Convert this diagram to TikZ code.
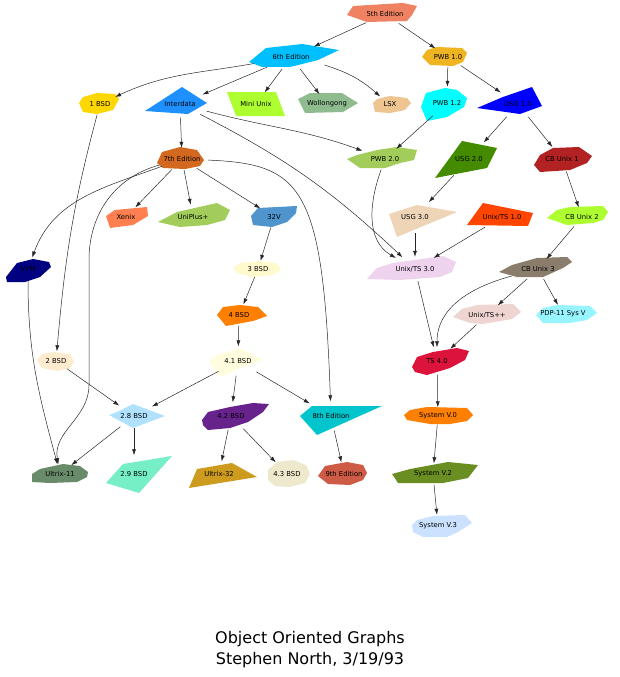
\documentclass[tikz,border=0pt]{standalone}
\usepackage{fontspec}
\setmainfont{DejaVu Sans}
\usetikzlibrary{arrows.meta,shapes.geometric}

\definecolor{salmon2}{RGB}{238,130,98}
\definecolor{deepskyblue}{RGB}{0,191,255}
\definecolor{goldenrod2}{RGB}{238,180,34}
\definecolor{gold}{RGB}{255,215,0}
\definecolor{dodgerblue}{RGB}{30,144,255}
\definecolor{greenyellow}{RGB}{173,255,47}
\definecolor{darkseagreen}{RGB}{143,188,143}
\definecolor{burlywood2}{RGB}{238,197,145}
\definecolor{aqua}{RGB}{0,255,255}
\definecolor{pureblue}{RGB}{0,0,255}
\definecolor{chocolate}{RGB}{210,105,30}
\definecolor{darkolivegreen3}{RGB}{162,205,90}
\definecolor{chartreuse4}{RGB}{69,139,0}
\definecolor{firebrick}{RGB}{178,34,34}
\definecolor{coral}{RGB}{255,127,80}
\definecolor{steelblue3}{RGB}{79,148,205}
\definecolor{bisque2}{RGB}{238,213,183}
\definecolor{orangered}{RGB}{255,69,0}
\definecolor{navy}{RGB}{0,0,128}
\definecolor{lemonchiffon}{RGB}{255,250,205}
\definecolor{thistle2}{RGB}{238,210,238}
\definecolor{bisque4}{RGB}{139,125,107}
\definecolor{darkorange1}{RGB}{255,127,0}
\definecolor{mistyrose2}{RGB}{238,213,210}
\definecolor{cadetblue1}{RGB}{152,245,255}
\definecolor{blanchedalmond}{RGB}{255,235,205}
\definecolor{lightyellow}{RGB}{255,253,222}
\definecolor{crimson}{RGB}{220,20,60}
\definecolor{lightskyblue1}{RGB}{176,226,255}
\definecolor{darkorchid4}{RGB}{104,34,139}
\definecolor{turquoise3}{RGB}{0,197,205}
\definecolor{darkseagreen4}{RGB}{105,139,105}
\definecolor{aquamarine2}{RGB}{118,238,198}
\definecolor{goldenrod3}{RGB}{205,155,29}
\definecolor{cornsilk2}{RGB}{238,232,205}
\definecolor{coral3}{RGB}{205,91,69}
\definecolor{olivedrab}{RGB}{107,142,35}
\definecolor{lightsteelblue1}{RGB}{202,225,255}

\begin{document}
\begin{tikzpicture}[x=1pt, y=-1pt]
    \tikzstyle{release} = [ellipse, inner sep=0pt, font={\fontsize{6.8}{7}\selectfont}];
    \tikzstyle{line} = [draw, black!85, line width=0.5pt, -{Latex[length=6pt,width=4pt]}];
    \useasboundingbox (0,0) rectangle (620,677);

    % research editions
    \fill[salmon2] (347,15) -- (353,6) -- (403,3) -- (417,6) -- (412,15) -- (407,21) -- (367,22) -- cycle;
    \node[release, minimum width=70, minimum height=20] (fifth) at (385,14) {5th Edition};
    \fill[deepskyblue] (249,62) -- (266,48) -- (302,44) -- (339,50) -- (318,60) -- (290,67) -- (262,67) -- cycle;
    \node[release, minimum width=88, minimum height=24] (sixth) at (291,57) {6th Edition};
    \fill[goldenrod2] (422,57) -- (427,50) -- (437,47) -- (462,48) -- (467,53) -- (463,62) -- (453,66) -- (430,65) -- cycle;
    \node[release, minimum width=46, minimum height=20] (pwb10) at (448,57) {PWB 1.0};
    \fill[gold] (79,103) -- (83,97) -- (97,93) -- (115,94) -- (119,99) -- (113,110) -- (97,114) -- (83,112) -- cycle;
    \node[release, minimum width=40, minimum height=21] (bsd1) at (100,104) {1 BSD};
    \fill[dodgerblue] (145,111) -- (182,87) -- (207,103) -- (188,114) -- cycle;
    \node[release, minimum width=62, minimum height=27] (interdata) at (180,104) {Interdata};
    \fill[greenyellow] (227,92) -- (276,92) -- (285,116) -- (236,116) -- cycle;
    \node[release, minimum width=56, minimum height=24] (miniunix) at (256,104) {Mini Unix};
    \fill[darkseagreen] (298,99) -- (310,93) -- (342,93) -- (358,103) -- (343,112) -- (305,113) -- cycle;
    \node[release, minimum width=60, minimum height=20] (wollongong) at (327,104) {Wollongong};
    \fill[burlywood2] (373,103) -- (377,99) -- (390,96) -- (407,98) -- (411,103) -- (405,110) -- (390,113) -- (375,112) -- cycle;
    \node[release, minimum width=38, minimum height=17] (lsx) at (390,104) {LSX};
    \fill[aqua] (421,107) -- (426,93) -- (445,88) -- (457,90) -- (467,98) -- (464,107) -- (447,117) -- (427,121) -- cycle;
    \node[release, minimum width=46, minimum height=32] (pwb12) at (447,103) {PWB 1.2};
    \fill[pureblue] (477,108) -- (503,97) -- (532,87) -- (542,106) -- (520,114) -- cycle;
    \node[release, minimum width=64, minimum height=27] (usg10) at (518,104) {USG 1.0};
    \fill[chocolate] (157,163) -- (162,152) -- (180,147) -- (197,150) -- (204,160) -- (200,166) -- (185,169) -- (163,168) -- cycle;
    \node[release, minimum width=47, minimum height=22] (seventh) at (182,159) {7th Edition};
    \fill[darkolivegreen3] (347,159) -- (357,155) -- (377,150) -- (397,147) -- (417,150) -- (414,160) -- (400,163) -- (385,168) -- (360,168) -- cycle;
    \node[release, minimum width=70, minimum height=21] (pwb20) at (385,159) {PWB 2.0};
    \fill[chartreuse4] (435,178) -- (462,141) -- (497,148) -- (487,168) -- cycle;
    \node[release, minimum width=62, minimum height=37] (usg20) at (469,159) {USG 2.0};
    \fill[firebrick] (534,165) -- (540,155) -- (553,148) -- (579,147) -- (592,156) -- (587,163) -- (570,170) -- (540,172) -- cycle;
    \node[release, minimum width=58, minimum height=25] (cbunix1) at (562,159) {CB Unix 1};
    \fill[coral] (106,216) -- (115,210) -- (147,207) -- (148,216) -- (133,225) -- (110,228) -- cycle;
    \node[release, minimum width=42, minimum height=21] (xenix) at (126,217) {Xenix};
    \fill[darkolivegreen3] (158,222) -- (177,212) -- (217,203) -- (230,210) -- (225,220) -- (207,225) -- (180,227) -- cycle;
    \node[release, minimum width=72, minimum height=24] (uniplus) at (193,217) {UniPlus+};
    \fill[steelblue3] (251,216) -- (258,208) -- (297,206) -- (296,213) -- (287,222) -- (272,227) -- (253,225) -- cycle;
    \node[release, minimum width=46, minimum height=21] (v32) at (274,217) {32V};
    \fill[bisque2] (389,214) -- (417,205) -- (457,212) -- (397,237) -- cycle;
    \node[release, minimum width=68, minimum height=32] (usg30) at (415,217) {USG 3.0};
    \fill[orangered] (467,225) -- (483,203) -- (533,213) -- (528,226) -- cycle;
    \node[release, minimum width=66, minimum height=23] (unixts10) at (502,217) {Unix/TS 1.0};
    \fill[greenyellow] (547,218) -- (557,210) -- (570,207) -- (603,206) -- (608,212) -- (603,220) -- (593,223) -- (567,225) -- cycle;
    \node[release, minimum width=61, minimum height=19] (cbunix2) at (582,217) {CB Unix 2};
    \fill[navy] (6,277) -- (17,263) -- (33,259) -- (49,262) -- (51,267) -- (40,277) -- (25,282) -- (7,282) -- cycle;
    \node[release, minimum width=45, minimum height=23] (v7m) at (28,269) {V7M};
    \fill[lemonchiffon] (233,268) -- (240,263) -- (260,261) -- (277,263) -- (281,270) -- (273,275) -- (253,277) -- (237,273) -- cycle;
    \node[release, minimum width=48, minimum height=16] (bsd3) at (258,269) {3 BSD};
    \fill[thistle2] (367,279) -- (377,268) -- (393,263) -- (443,256) -- (456,262) -- (452,272) -- (440,277) -- (400,280) -- cycle;
    \node[release, minimum width=89, minimum height=24] (unixts30) at (415,269) {Unix/TS 3.0};
    \fill[bisque4] (499,272) -- (512,265) -- (537,258) -- (567,257) -- (572,262) -- (563,268) -- (543,277) -- (517,277) -- cycle;
    \node[release, minimum width=73, minimum height=20] (cbunix3) at (538,269) {CB Unix 3};
    \fill[darkorange1] (217,315) -- (223,307) -- (240,305) -- (258,307) -- (267,316) -- (253,321) -- (226,326) -- cycle;
    \node[release, minimum width=50, minimum height=21] (bsd4) at (239,315) {4 BSD};
    \fill[mistyrose2] (453,317) -- (462,309) -- (477,305) -- (513,304) -- (521,312) -- (512,319) -- (483,324) -- (470,323) -- cycle;
    \node[release, minimum width=68, minimum height=20] (unixtspp) at (487,315) {Unix/TS++};
    \fill[cadetblue1] (536,315) -- (543,308) -- (557,305) -- (590,306) -- (597,313) -- (587,320) -- (570,323) -- (543,323) -- cycle;
    \node[release, minimum width=61, minimum height=18] (pdp11) at (563,314) {PDP-11 Sys V};
    \fill[blanchedalmond] (37,360) -- (42,354) -- (53,352) -- (70,354) -- (74,362) -- (70,368) -- (58,371) -- (42,368) -- cycle;
    \node[release, minimum width=37, minimum height=19] (bsd2) at (56,361) {2 BSD};
    \fill[lightyellow] (209,361) -- (217,355) -- (240,348) -- (263,360) -- (240,368) -- (220,377) -- cycle;
    \node[release, minimum width=54, minimum height=29] (bsd41) at (238,361) {4.1 BSD};
    \fill[crimson] (412,367) -- (417,357) -- (433,352) -- (457,348) -- (469,351) -- (465,360) -- (450,368) -- (427,375) -- (415,372) -- cycle;
    \node[release, minimum width=57, minimum height=27] (ts40) at (437,361) {TS 4.0};
    \fill[lightskyblue1] (109,415) -- (117,412) -- (133,404) -- (165,416) -- (133,428) -- cycle;
    \node[release, minimum width=56, minimum height=24] (bsd28) at (134,416) {2.8 BSD};
    \fill[darkorchid4] (202,420) -- (208,412) -- (230,407) -- (253,403) -- (269,404) -- (263,412) -- (248,422) -- (230,428) -- (208,430) -- (203,425) -- cycle;
    \node[release, minimum width=67, minimum height=27] (bsd42) at (231,416) {4.2 BSD};
    \fill[turquoise3] (300,416) -- (312,406) -- (382,406) -- (317,435) -- cycle;
    \node[release, minimum width=82, minimum height=29] (eighth) at (331,416) {8th Edition};
    \fill[darkorange1] (404,415) -- (410,410) -- (427,407) -- (467,408) -- (473,415) -- (467,421) -- (450,424) -- (430,424) -- (407,420) -- cycle;
    \node[release, minimum width=69, minimum height=17] (sysv0) at (438,416) {System V.0};
    \fill[darkseagreen4] (32,474) -- (40,469) -- (63,464) -- (80,466) -- (88,472) -- (87,477) -- (77,482) -- (50,483) -- (32,482) -- cycle;
    \node[release, minimum width=56, minimum height=19] (ultrix11) at (60,474) {Ultrix-11};
    \fill[aquamarine2] (106,483) -- (123,464) -- (172,456) -- (139,493) -- cycle;
    \node[release, minimum width=66, minimum height=37] (bsd29) at (134,474) {2.9 BSD};
    \fill[goldenrod3] (189,488) -- (197,469) -- (232,463) -- (257,477) -- cycle;
    \node[release, minimum width=68, minimum height=25] (ultrix32) at (219,474) {Ultrix-32};
    \fill[cornsilk2] (268,470) -- (277,462) -- (293,460) -- (306,465) -- (310,474) -- (305,483) -- (290,487) -- (275,486) -- (268,480) -- cycle;
    \node[release, minimum width=42, minimum height=27] (bsd43) at (287,474) {4.3 BSD};
    \fill[coral3] (318,476) -- (325,466) -- (347,462) -- (363,465) -- (367,473) -- (363,480) -- (350,485) -- (328,484) -- cycle;
    \node[release, minimum width=49, minimum height=23] (ninth) at (344,474) {9th Edition};
    \fill[olivedrab] (392,474) -- (410,469) -- (448,462) -- (478,465) -- (468,478) -- (443,483) -- (398,483) -- cycle;
    \node[release, minimum width=86, minimum height=21] (sysv2) at (433,474) {System V.2};
    \fill[lightsteelblue1] (412,525) -- (417,520) -- (433,516) -- (465,515) -- (472,523) -- (458,532) -- (447,537) -- (423,537) -- (413,532) -- cycle;
    \node[release, minimum width=60, minimum height=22] (sysv3) at (438,526) {System V.3};

    \node[align=center, font={\fontsize{16}{21}\selectfont}] (title) at (310,650) {Object Oriented Graphs\\Stephen North, 3/19/93};

    \tikzstyle{every path}=[line]
    \path (fifth) -- (sixth);
    \path (fifth) -- (pwb10);
    \path (sixth) to[out=190,in=25] (bsd1);
    \path (sixth) -- (interdata);
    \path (sixth) -- (miniunix);
    \path (sixth) -- (wollongong);
    \path (sixth) to[bend left=12] (lsx);
    \path (interdata) to[bend left=8] (unixts30);
    \path (interdata) to[out=-15,in=160] (pwb20);
    \path (interdata) -- (seventh);
    \path (seventh) .. controls +(120,5) and +(-8,-230) .. (eighth);
    \path (seventh) -- (v32);
    \path (seventh) to[out=200,in=70] (v7m);
    \path (seventh) to[out=195,in=90] (89,260) -- (89,385) to[out=-90,in=100] (ultrix11);
    \path (seventh) -- (xenix);
    \path (seventh) -- (uniplus);
    \path (v7m) to[out=-90,in=105] (ultrix11);
    \path (eighth) -- (ninth);
    \path (bsd1) to[out=-105,in=85] (bsd2);
    \path (bsd2) -- (bsd28);
    \path (bsd28) -- (ultrix11);
    \path (bsd28) -- (bsd29);
    \path (v32) -- (bsd3);
    \path (bsd3) -- (bsd4);
    \path (bsd4) -- (bsd41);
    \path (bsd41) -- (bsd42);
    \path (bsd41) -- (bsd28);
    \path (bsd41) -- (eighth);
    \path (bsd42) -- (bsd43);
    \path (bsd42) -- (ultrix32);
    \path (pwb10) -- (pwb12);
    \path (pwb10) -- (usg10);
    \path (pwb12) -- (pwb20);
    \path (usg10) -- (cbunix1);
    \path (usg10) -- (usg20);
    \path (cbunix1) -- (cbunix2);
    \path (cbunix2) -- (cbunix3);
    \path (cbunix3) -- (unixtspp);
    \path (cbunix3) -- (pdp11);
    \path (cbunix3) to[out=195,in=90] (ts40);
    \path (usg20) -- (usg30);
    \path (usg30) -- (unixts30);
    \path (pwb20) to[out=-110,in=150] (unixts30);
    \path (unixts10) -- (unixts30);
    \path (unixts30) -- (ts40);
    \path (unixtspp) -- (ts40);
    \path (ts40) -- (sysv0);
    \path (sysv0) -- (sysv2);
    \path (sysv2) -- (sysv3);
\end{tikzpicture}
\end{document}
